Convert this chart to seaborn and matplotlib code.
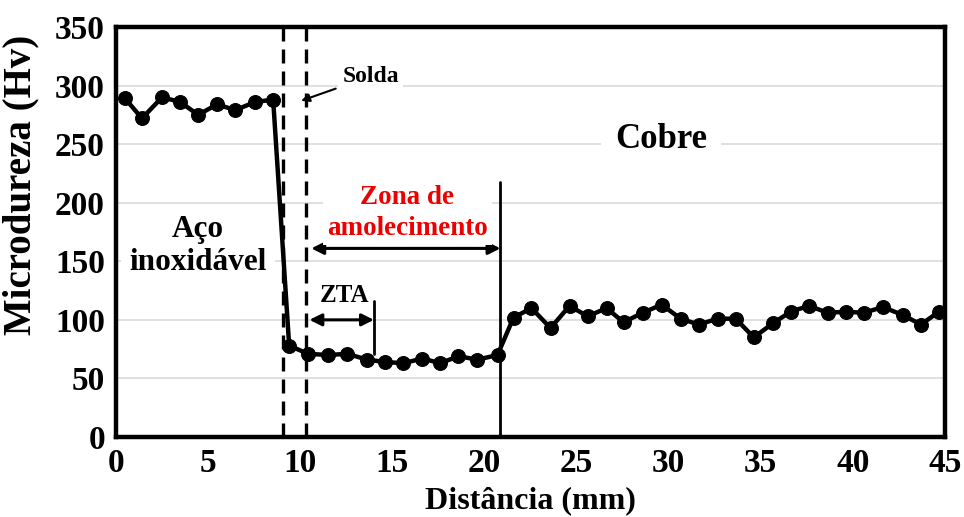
import matplotlib
matplotlib.use("Agg")
import matplotlib.pyplot as plt
import seaborn as sns
import pandas as pd

# Microhardness profile across the stainless steel / copper weld
distance_mm = [0.49, 1.41, 2.5, 3.48, 4.46, 5.49, 6.47, 7.55, 8.53,
               9.4, 10.43, 11.52, 12.55, 13.64, 14.62, 15.6, 16.63, 17.6, 18.59, 19.62, 20.71,
               21.58, 22.55, 23.59, 24.62, 25.6, 26.63, 27.55, 28.59, 29.62, 30.65,
               31.63, 32.66, 33.64, 34.62, 35.65, 36.63, 37.61, 38.64, 39.62, 40.6,
               41.63, 42.72, 43.7, 44.67]
hardness_hv = [289, 272, 290, 286, 275, 284, 279, 286, 288,
               78, 71, 70, 71, 66, 64, 63, 67, 63, 69, 66, 70,
               102, 110, 93, 112, 103, 110, 98, 106, 113, 101,
               96, 101, 101, 85, 97, 107, 112, 106, 107, 106,
               111, 104, 96, 107]

x_ticks = [0, 5, 10, 15, 20, 25, 30, 35, 40, 45]
y_ticks = [0, 50, 100, 150, 200, 250, 300, 350]

# Zone boundaries (mm)
weld_bounds = [9.05, 10.3]
haz_end = 14.0
soft_zone_end = 20.87

df = pd.DataFrame({"Distância (mm)": distance_mm, "Microdureza (Hv)": hardness_hv})

sns.set_style("white")
plt.rcParams["font.family"] = ["Liberation Serif", "DejaVu Serif"]
plt.rcParams["font.weight"] = "bold"
plt.rcParams["text.color"] = "black"
plt.rcParams["axes.labelcolor"] = "black"
plt.rcParams["xtick.color"] = "black"
plt.rcParams["ytick.color"] = "black"

fig = plt.figure(figsize=(9.64, 5.17), dpi=100)
ax = fig.add_axes([116 / 964, 1 - 437 / 517, (945 - 116) / 964, (437 - 27) / 517])

# light horizontal grid
for yv in y_ticks[1:-1]:
    ax.axhline(yv, color="#dadada", lw=1.2, zorder=0)

sns.lineplot(data=df, x="Distância (mm)", y="Microdureza (Hv)", ax=ax,
             color="black", lw=3.2, marker="o", markersize=10,
             markeredgecolor="black", zorder=5)

# weld boundaries
for xb in weld_bounds:
    ax.axvline(xb, color="black", lw=2.4, ls=(0, (4.2, 2.4)), zorder=4)

# end of softening zone and of the HAZ
ax.plot([soft_zone_end, soft_zone_end], [0, 218], color="black", lw=2, zorder=4)
ax.plot([haz_end, haz_end], [71, 116], color="black", lw=2, zorder=4)

arrow_kw = dict(arrowstyle="<|-|>", color="black", lw=2.2, mutation_scale=18,
                shrinkA=0, shrinkB=0)
ax.annotate("", xy=(weld_bounds[1] + 0.3, 161), xytext=(soft_zone_end, 161),
            arrowprops=arrow_kw, zorder=6)
ax.annotate("", xy=(weld_bounds[1] + 0.2, 100), xytext=(haz_end, 100),
            arrowprops=arrow_kw, zorder=6)

white_box = dict(facecolor="white", edgecolor="none", pad=3)
ax.text(15.8, 191, "Zona de\namolecimento", color="#ee0000", fontsize=19.5,
        fontweight="bold", ha="center", va="center", linespacing=1.3,
        bbox=white_box, zorder=6)
ax.text(12.4, 121, "ZTA", fontsize=18, fontweight="bold",
        ha="center", va="center", zorder=6)
ax.text(4.45, 163, "Aço\ninoxidável", fontsize=22.5, fontweight="bold",
        ha="center", va="center", linespacing=1.2,
        bbox=dict(facecolor="white", edgecolor="none", pad=6), zorder=6)
ax.text(29.6, 254, "Cobre", fontsize=25, fontweight="bold",
        ha="center", va="center", bbox=dict(facecolor="white", edgecolor="none", pad=10),
        zorder=6)
ax.annotate("Solda", xy=(10.05, 287), xytext=(12.3, 308), fontsize=17,
            fontweight="bold", ha="left", va="center",
            arrowprops=dict(arrowstyle="-|>", color="black", lw=1.5,
                            mutation_scale=12, shrinkA=2, shrinkB=0),
            bbox=dict(facecolor="white", edgecolor="none", pad=3), zorder=6)

ax.set_xlim(0, 45)
ax.set_ylim(0, 350)
ax.set_xticks(x_ticks)
ax.set_yticks(y_ticks)
ax.tick_params(direction="in", length=6, width=2.5, labelsize=24, pad=8)
for lab in ax.get_xticklabels() + ax.get_yticklabels():
    lab.set_fontweight("bold")

for sp in ax.spines.values():
    sp.set_visible(True)
    sp.set_color("black")
    sp.set_linewidth(3.2)

ax.set_xlabel("Distância (mm)", fontsize=23, fontweight="bold", labelpad=5)
ax.set_ylabel("Microdureza (Hv)", fontsize=28, fontweight="bold")
ax.yaxis.set_label_coords(-0.092, 0.615)

fig.savefig("out.png", dpi=100)
